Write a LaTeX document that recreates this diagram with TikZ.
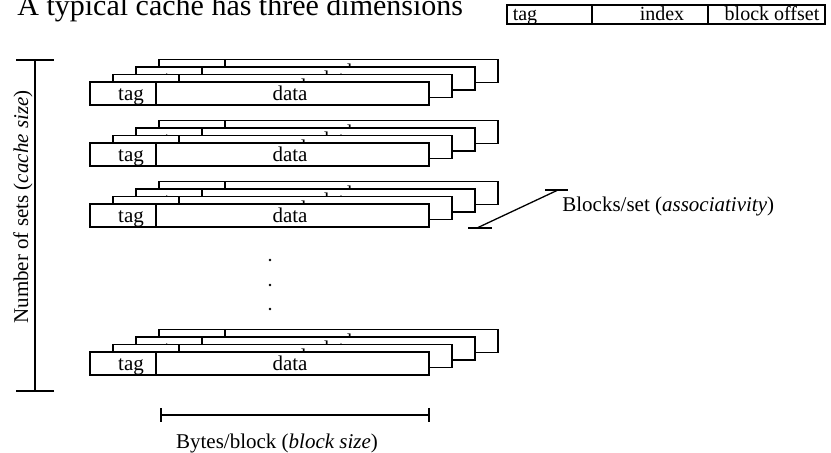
\documentclass[tikz,border=0pt]{standalone}
\usepackage{fontspec}
\setmainfont{Liberation Serif}
\usetikzlibrary{arrows.meta}

\tikzset{
	cacheline/.style={draw, fill=white, line width=0.65pt},
	bracket/.style={line width=1pt},
	lbl/.style={font=\fontsize{10.5}{12}\selectfont, inner sep=0pt, anchor=base},
	field/.style={lbl, font=\fontsize{10}{12}\selectfont},
}

\begin{document}
\begin{tikzpicture}[x=0.5pt, y=-0.5pt]
	\clip (0,0) rectangle (831,453);

	\node[lbl, anchor=base west, font=\fontsize{15}{18}\selectfont] (title) at (17,16) {A typical cache has three dimensions};

	% address fields
	\draw[cacheline] (507,5) rectangle (825,24);
	\draw[cacheline] (592,5) -- (592,24) (708,5) -- (708,24);
	\node[field] (addrtag) at (525,21) {tag};
	\node[field] (addrindex) at (662,21) {index};
	\node[field] (addroffset) at (772,21) {block offset};

	% four sets, each way drawn from the back to the front
	\foreach \y [count=\s] in {82,143,204,352} {
		\foreach \w in {3,2,1,0} {
			\begin{scope}[shift={(23*\w,-7.5*\w)}]
				\draw[cacheline] (90,\y) rectangle (429,\y+23);
				\draw[cacheline] (156,\y) -- (156,\y+23);
				\node[lbl] (tag-\s-\w) at (131,\y+19) {tag};
				\node[lbl] (data-\s-\w) at (290,\y+19) {data};
			\end{scope}
		}
	}
	\foreach \y in {260,285,309}
		\fill (270,\y) circle (1.3);

	% number of sets
	\coordinate (setstop) at (35,59);
	\coordinate (setsbot) at (35,392);
	\draw[bracket, {Bar[width=19pt]}-{Bar[width=19pt]}] (setstop) -- (setsbot);
	\node[lbl, rotate=90] (setslbl) at (28,207) {Number of sets (\textit{cache size})};

	% bytes per block
	\coordinate (bytesl) at (160,415);
	\coordinate (bytesr) at (430,415);
	\draw[bracket, {Bar[width=7pt]}-{Bar[width=7pt]}] (bytesl) -- (bytesr);
	\node[lbl] (byteslbl) at (277,449) {Bytes/block (\textit{block size})};

	% blocks per set
	\coordinate (waysbot) at (477,228);
	\coordinate (waystop) at (558,190);
	\draw[line width=0.65pt] (waysbot) -- (waystop);
	\draw[bracket] (468,228) -- (492,228) (545,190) -- (568,190);
	\node[lbl, anchor=base west] (wayslbl) at (562,212) {Blocks/set (\textit{associativity})};
\end{tikzpicture}
\end{document}
